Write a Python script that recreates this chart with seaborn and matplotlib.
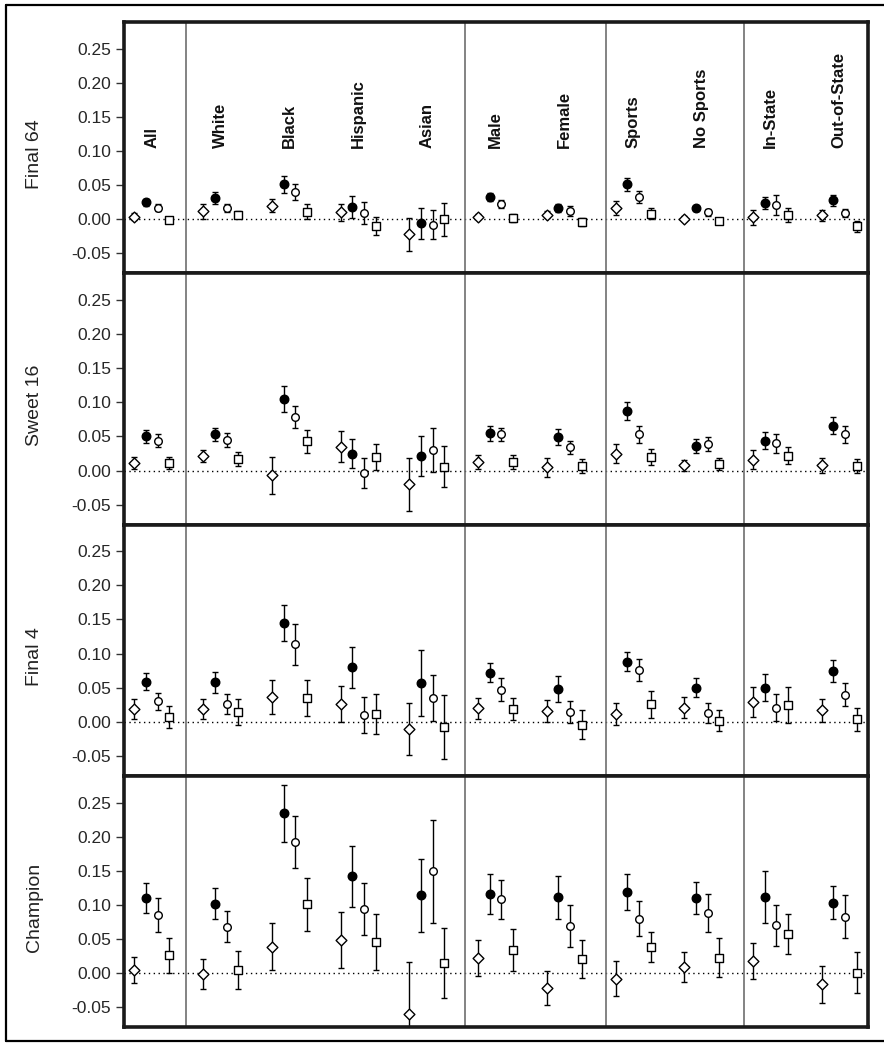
import numpy as np
import pandas as pd
import matplotlib
matplotlib.use("Agg")
import matplotlib.pyplot as plt
from matplotlib.lines import Line2D
import seaborn as sns

groups = ["All", "White", "Black", "Hispanic", "Asian", "Male", "Female",
          "Sports", "No Sports", "In-State", "Out-of-State"]
panels = ["Final 64", "Sweet 16", "Final 4", "Champion"]
series = ["diamond", "dot", "circle", "square"]
yticks = [-0.05, 0.00, 0.05, 0.10, 0.15, 0.20, 0.25]
ytick_labels = ["-0.05", "0.00", "0.05", "0.10", "0.15", "0.20", "0.25"]

# Final 64
f64_diamond = [0.004, 0.012, 0.020, 0.010, -0.022, 0.004, 0.007, 0.017, 0.001, 0.003, 0.006]
f64_diamond_err = [0.005, 0.011, 0.010, 0.012, 0.024, 0.004, 0.005, 0.010, 0.004, 0.011, 0.008]
f64_dot = [0.025, 0.031, 0.051, 0.018, -0.006, 0.033, 0.017, 0.051, 0.016, 0.024, 0.028]
f64_dot_err = [0.005, 0.009, 0.012, 0.016, 0.023, 0.006, 0.006, 0.009, 0.004, 0.009, 0.008]
f64_circle = [0.017, 0.017, 0.040, 0.009, -0.008, 0.022, 0.012, 0.033, 0.010, 0.021, 0.009]
f64_circle_err = [0.005, 0.006, 0.012, 0.016, 0.021, 0.006, 0.007, 0.009, 0.005, 0.014, 0.006]
f64_square = [-0.001, 0.007, 0.011, -0.010, 0.000, 0.002, -0.004, 0.008, -0.003, 0.006, -0.010]
f64_square_err = [0.005, 0.005, 0.011, 0.013, 0.024, 0.006, 0.006, 0.008, 0.004, 0.010, 0.008]

# Sweet 16
s16_diamond = [0.011, 0.021, -0.007, 0.035, -0.020, 0.013, 0.005, 0.025, 0.008, 0.016, 0.008]
s16_diamond_err = [0.009, 0.009, 0.027, 0.023, 0.039, 0.010, 0.014, 0.014, 0.008, 0.014, 0.011]
s16_dot = [0.050, 0.053, 0.105, 0.025, 0.021, 0.055, 0.049, 0.087, 0.036, 0.044, 0.066]
s16_dot_err = [0.009, 0.010, 0.019, 0.021, 0.029, 0.011, 0.012, 0.013, 0.010, 0.013, 0.012]
s16_circle = [0.044, 0.045, 0.079, -0.004, 0.030, 0.053, 0.034, 0.053, 0.039, 0.040, 0.053]
s16_circle_err = [0.010, 0.010, 0.016, 0.022, 0.032, 0.010, 0.010, 0.013, 0.010, 0.014, 0.012]
s16_square = [0.011, 0.017, 0.043, 0.020, 0.006, 0.013, 0.007, 0.020, 0.010, 0.022, 0.007]
s16_square_err = [0.009, 0.010, 0.017, 0.019, 0.030, 0.010, 0.010, 0.012, 0.009, 0.012, 0.010]

# Final 4
f4_diamond = [0.019, 0.019, 0.037, 0.026, -0.010, 0.020, 0.016, 0.012, 0.021, 0.029, 0.017]
f4_diamond_err = [0.014, 0.015, 0.025, 0.026, 0.038, 0.015, 0.016, 0.016, 0.015, 0.022, 0.017]
f4_dot = [0.059, 0.058, 0.145, 0.080, 0.057, 0.072, 0.048, 0.088, 0.050, 0.050, 0.075]
f4_dot_err = [0.012, 0.015, 0.026, 0.030, 0.049, 0.014, 0.019, 0.014, 0.014, 0.020, 0.016]
f4_circle = [0.030, 0.026, 0.114, 0.010, 0.035, 0.047, 0.014, 0.076, 0.013, 0.021, 0.040]
f4_circle_err = [0.013, 0.015, 0.030, 0.026, 0.034, 0.017, 0.016, 0.016, 0.014, 0.020, 0.017]
f4_square = [0.007, 0.015, 0.035, 0.012, -0.007, 0.019, -0.004, 0.026, 0.002, 0.025, 0.004]
f4_square_err = [0.016, 0.019, 0.026, 0.029, 0.047, 0.016, 0.021, 0.020, 0.016, 0.026, 0.017]

# Champion
ch_diamond = [0.005, -0.001, 0.039, 0.049, -0.060, 0.022, -0.022, -0.008, 0.009, 0.018, -0.016]
ch_diamond_err = [0.019, 0.022, 0.034, 0.041, 0.077, 0.026, 0.025, 0.026, 0.022, 0.026, 0.027]
ch_dot = [0.110, 0.102, 0.234, 0.142, 0.114, 0.116, 0.111, 0.119, 0.110, 0.112, 0.103]
ch_dot_err = [0.022, 0.023, 0.042, 0.045, 0.053, 0.029, 0.032, 0.027, 0.023, 0.038, 0.024]
ch_circle = [0.085, 0.068, 0.192, 0.094, 0.149, 0.108, 0.069, 0.080, 0.088, 0.070, 0.083]
ch_circle_err = [0.025, 0.023, 0.038, 0.038, 0.076, 0.029, 0.031, 0.026, 0.028, 0.030, 0.032]
ch_square = [0.026, 0.005, 0.101, 0.045, 0.015, 0.034, 0.021, 0.039, 0.023, 0.057, 0.001]
ch_square_err = [0.025, 0.028, 0.039, 0.041, 0.051, 0.031, 0.028, 0.022, 0.028, 0.029, 0.030]

panel_data = {
    "Final 64": [(f64_diamond, f64_diamond_err), (f64_dot, f64_dot_err),
                 (f64_circle, f64_circle_err), (f64_square, f64_square_err)],
    "Sweet 16": [(s16_diamond, s16_diamond_err), (s16_dot, s16_dot_err),
                 (s16_circle, s16_circle_err), (s16_square, s16_square_err)],
    "Final 4": [(f4_diamond, f4_diamond_err), (f4_dot, f4_dot_err),
                (f4_circle, f4_circle_err), (f4_square, f4_square_err)],
    "Champion": [(ch_diamond, ch_diamond_err), (ch_dot, ch_dot_err),
                 (ch_circle, ch_circle_err), (ch_square, ch_square_err)],
}

# long table
rows = []
for p in panels:
    for s, (vals, errs) in zip(series, panel_data[p]):
        for g, v, e in zip(groups, vals, errs):
            rows.append({"panel": p, "series": s, "group": g, "value": v, "err": e})
df = pd.DataFrame(rows)
offsets = {"diamond": -0.255, "dot": -0.085, "circle": 0.085, "square": 0.255}
df["x"] = df["group"].map({g: i for i, g in enumerate(groups)}) + df["series"].map(offsets)

styles = {
    "diamond": dict(marker="D", s=30, color="white"),
    "dot": dict(marker="o", s=38, color="black"),
    "circle": dict(marker="o", s=30, color="white"),
    "square": dict(marker="s", s=30, color="white"),
}

sns.set_theme(style="white")
plt.rcParams["font.family"] = ["Liberation Sans", "DejaVu Sans"]

fig, axes = plt.subplots(4, 1, figsize=(8.84, 10.46), dpi=100, sharex=True, sharey=True)
fig.subplots_adjust(left=0.140, right=0.982, top=0.979, bottom=0.018, hspace=0)

separators = [0.5, 4.55, 6.6, 8.62]

for ax, p in zip(axes, panels):
    sub = df[df["panel"] == p]
    ax.axhline(0, color="black", lw=1.0, ls=(0, (1, 2.5)), zorder=1)
    for sx in separators:
        ax.axvline(sx, color="#6e6e6e", lw=1.2, zorder=1)
    for s in series:
        d = sub[sub["series"] == s]
        ax.errorbar(d["x"], d["value"], yerr=d["err"], fmt="none", ecolor="black",
                    elinewidth=1.0, capsize=2.3, capthick=1.0, zorder=2)
        sns.scatterplot(data=d, x="x", y="value", edgecolor="black", linewidth=1.0,
                        ax=ax, zorder=3, legend=False, **styles[s])
    ax.set_xlim(-0.41, 10.42)
    ax.set_ylim(-0.079, 0.289)
    ax.set_yticks(yticks)
    ax.set_yticklabels(ytick_labels)
    ax.set_xticks([])
    ax.set_xlabel("")
    ax.set_ylabel(p, fontsize=14, color="#222222")
    ax.yaxis.set_label_coords(-0.109, 0.475)
    ax.tick_params(axis="y", left=True, length=6, width=1.0, color="#333333",
                   labelsize=12.5, pad=3)
    for sp in ax.spines.values():
        sp.set_color("#1a1a1a")
        sp.set_linewidth(2.6)

# group labels in the top panel
for i, g in enumerate(groups):
    axes[0].text(i, 0.105, g, rotation=90, ha="center", va="bottom",
                 fontsize=12, fontweight="bold", color="#111111")

# outer frame
frame_kw = dict(color="black", lw=1.6, transform=fig.transFigure)
fig.add_artist(Line2D([6 / 884, 1.01], [1 - 4.5 / 1046] * 2, **frame_kw))
fig.add_artist(Line2D([6 / 884, 1.01], [1 - 1041 / 1046] * 2, **frame_kw))
fig.add_artist(Line2D([6 / 884] * 2, [1 - 4.5 / 1046, 1 - 1041 / 1046], **frame_kw))

fig.savefig("out.png", dpi=100)
